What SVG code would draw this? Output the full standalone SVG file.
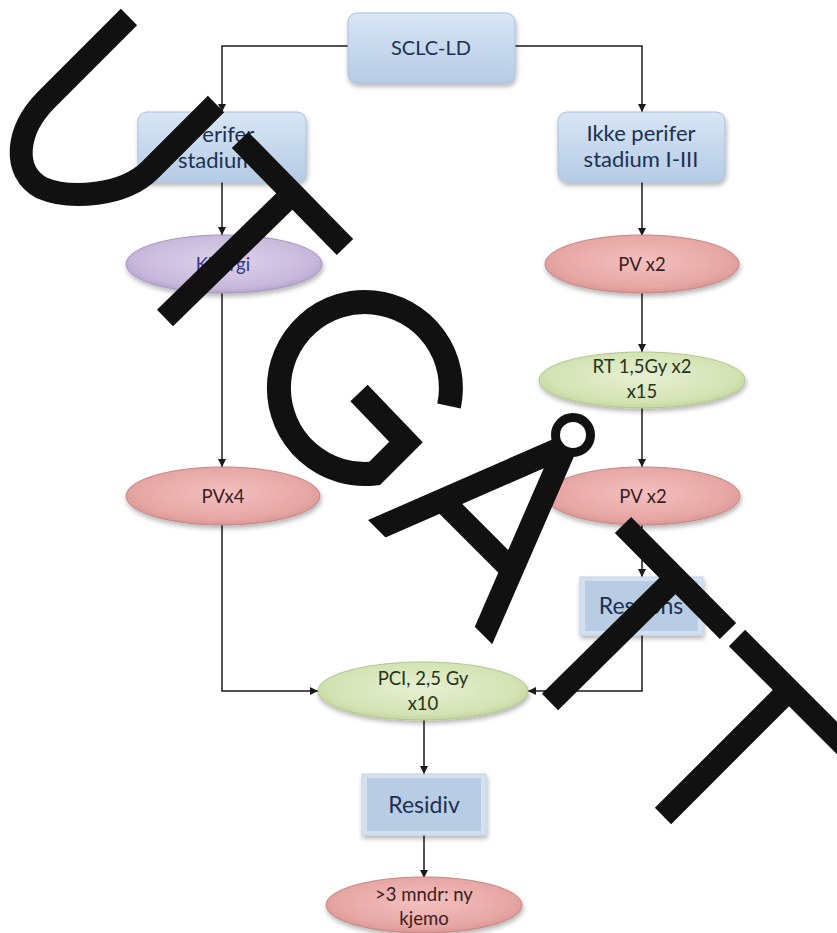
<svg xmlns="http://www.w3.org/2000/svg" width="837" height="933" viewBox="0 0 837 933">
<defs>
<style>
.lbl{font-family:Lato,"Open Sans","DejaVu Sans",sans-serif;text-anchor:middle}
.bx{font-size:22px;fill:#1c3152}
.bv{font-size:23px;fill:#1c3152}
.el{font-size:18.5px}
.pk{fill:#3a1d1d}
.gr{fill:#26331b}
.pu{fill:#38358a}
.conn{fill:none;stroke:#1a1a1a;stroke-width:1.5}
.stamp{fill:none;stroke:#111;stroke-width:23;stroke-linecap:butt;stroke-linejoin:miter}
</style>
<linearGradient id="gBox" x1="0" y1="0" x2="0" y2="1"><stop offset="0" stop-color="#d8e6f5"/><stop offset="1" stop-color="#b5cbe5"/></linearGradient>
<radialGradient id="gPink" cx="0.5" cy="0.45" r="0.6"><stop offset="0" stop-color="#f3c0bf"/><stop offset="0.75" stop-color="#e6a6a4"/><stop offset="1" stop-color="#d48e8c"/></radialGradient>
<radialGradient id="gGreen" cx="0.5" cy="0.45" r="0.6"><stop offset="0" stop-color="#e7f0d2"/><stop offset="0.75" stop-color="#d3e3b3"/><stop offset="1" stop-color="#bcd094"/></radialGradient>
<radialGradient id="gPurple" cx="0.5" cy="0.45" r="0.6"><stop offset="0" stop-color="#ddd2ea"/><stop offset="0.75" stop-color="#c8b9dc"/><stop offset="1" stop-color="#ad9ac8"/></radialGradient>
<filter id="sh" x="-10%" y="-20%" width="120%" height="150%"><feGaussianBlur in="SourceAlpha" stdDeviation="2.5"/><feOffset dx="1" dy="3" result="b"/><feComponentTransfer><feFuncA type="linear" slope="0.3"/></feComponentTransfer><feMerge><feMergeNode/><feMergeNode in="SourceGraphic"/></feMerge></filter>
<marker id="ar" viewBox="0 0 10 10" refX="10" refY="5" markerWidth="8" markerHeight="8" markerUnits="userSpaceOnUse" orient="auto"><path d="M0,0 L10,5 L0,10 z" fill="#1a1a1a"/></marker>
<clipPath id="aClip"><polygon points="250,402 750,902 900,902 900,250 250,250"/></clipPath>
</defs>
<rect width="837" height="933" fill="#ffffff"/>

<g id="connectors">
<path class="conn" d="M348,46 H222 V112" marker-end="url(#ar)"/>
<path class="conn" d="M515,46 H642 V112" marker-end="url(#ar)"/>
<path class="conn" d="M222,182 V235" marker-end="url(#ar)"/>
<path class="conn" d="M642,182 V236" marker-end="url(#ar)"/>
<path class="conn" d="M222,293 V467" marker-end="url(#ar)"/>
<path class="conn" d="M642,293 V352" marker-end="url(#ar)"/>
<path class="conn" d="M642,408 V467" marker-end="url(#ar)"/>
<path class="conn" d="M642,525 V577" marker-end="url(#ar)"/>
<path class="conn" d="M222,525 V691 H318" marker-end="url(#ar)"/>
<path class="conn" d="M642,635 V691 H528" marker-end="url(#ar)"/>
<path class="conn" d="M424,720 V774" marker-end="url(#ar)"/>
<path class="conn" d="M424,835 V878" marker-end="url(#ar)"/>
</g>

<g id="sclc">
<rect x="348" y="13" width="167" height="70" rx="9" fill="url(#gBox)" stroke="#a9c0dc" stroke-width="1" filter="url(#sh)"/>
<text class="lbl bx" x="431" y="55" style="font-size:20px">SCLC-LD</text>
</g>
<g id="perifer">
<rect x="138" y="112" width="168" height="70" rx="9" fill="url(#gBox)" stroke="#a9c0dc" stroke-width="1" filter="url(#sh)"/>
<text class="lbl bx" x="222" y="142">Perifer</text>
<text class="lbl bx" x="222" y="168">stadium I</text>
</g>
<g id="ikkeperifer">
<rect x="558" y="112" width="167" height="70" rx="9" fill="url(#gBox)" stroke="#a9c0dc" stroke-width="1" filter="url(#sh)"/>
<text class="lbl bx" x="641" y="141">Ikke perifer</text>
<text class="lbl bx" x="641" y="167">stadium I-III</text>
</g>
<g id="kirurgi">
<ellipse cx="224" cy="264" rx="98" ry="29" fill="url(#gPurple)" stroke="#a593c0" stroke-width="1" filter="url(#sh)"/>
<text class="lbl el pu" x="223" y="271">Kirurgi</text>
</g>
<g id="pv1">
<ellipse cx="642" cy="264" rx="97" ry="29" fill="url(#gPink)" stroke="#c48482" stroke-width="1" filter="url(#sh)"/>
<text class="lbl el pk" x="642" y="271">PV x2</text>
</g>
<g id="rt">
<ellipse cx="642" cy="380" rx="103" ry="28" fill="url(#gGreen)" stroke="#b2c68c" stroke-width="1" filter="url(#sh)"/>
<text class="lbl el gr" x="642" y="373">RT 1,5Gy x2</text>
<text class="lbl el gr" x="642" y="398">x15</text>
</g>
<g id="pv2">
<ellipse cx="643" cy="496" rx="97" ry="29" fill="url(#gPink)" stroke="#c48482" stroke-width="1" filter="url(#sh)"/>
<text class="lbl el pk" x="643" y="503">PV x2</text>
</g>
<g id="pvx4">
<ellipse cx="223" cy="496" rx="97" ry="29" fill="url(#gPink)" stroke="#c48482" stroke-width="1" filter="url(#sh)"/>
<text class="lbl el pk" x="223" y="503">PVx4</text>
</g>
<g id="respons">
<rect x="580" y="577" width="123" height="58" fill="#d3e0ef" stroke="#c2d3e8" stroke-width="1" filter="url(#sh)"/>
<rect x="585" y="581" width="113" height="50" fill="#b8cce4"/>
<text class="lbl bv" x="641" y="614">Respons</text>
</g>
<g id="pci">
<ellipse cx="423" cy="691" rx="105" ry="29" fill="url(#gGreen)" stroke="#b2c68c" stroke-width="1" filter="url(#sh)"/>
<text class="lbl el gr" x="423" y="685">PCI, 2,5 Gy</text>
<text class="lbl el gr" x="423" y="710">x10</text>
</g>
<g id="residiv">
<rect x="362" y="774" width="124" height="61" fill="#d3e0ef" stroke="#c2d3e8" stroke-width="1" filter="url(#sh)"/>
<rect x="367" y="778" width="114" height="53" fill="#b8cce4"/>
<text class="lbl bv" x="424" y="813">Residiv</text>
</g>
<g id="kjemo">
<ellipse cx="424" cy="905" rx="98" ry="28" fill="url(#gPink)" stroke="#c48482" stroke-width="1" filter="url(#sh)"/>
<text class="lbl el pk" x="424" y="901">&gt;3 mndr: ny</text>
<text class="lbl el pk" x="424" y="925">kjemo</text>
</g>

<g id="stamp">
<path class="stamp" d="M129,17 L47,99 C15,131 12,172 42,188 C70,200 124,196 150,170 L216,104"/>
<path class="stamp" d="M240,140 L345,247 M292.5,193.5 L165,318"/>
<path class="stamp" style="stroke-width:24" d="M449,406 A86,86 0 1 0 374.5,473.5 L406,442 L359,393"/>
<g clip-path="url(#aClip)">
<path class="stamp" d="M358,537 L566,446 M475,655 L566,446 M442,500 L512,570"/>
</g>
<circle cx="573" cy="435" r="17.5" fill="#ffffff" stroke="#111" stroke-width="9"/>
<path class="stamp" d="M623,525 L728,631 M675.5,578 L550,702"/>
<path class="stamp" d="M737,638 L850,751 M789,690 L663,816"/>
</g>
</svg>
